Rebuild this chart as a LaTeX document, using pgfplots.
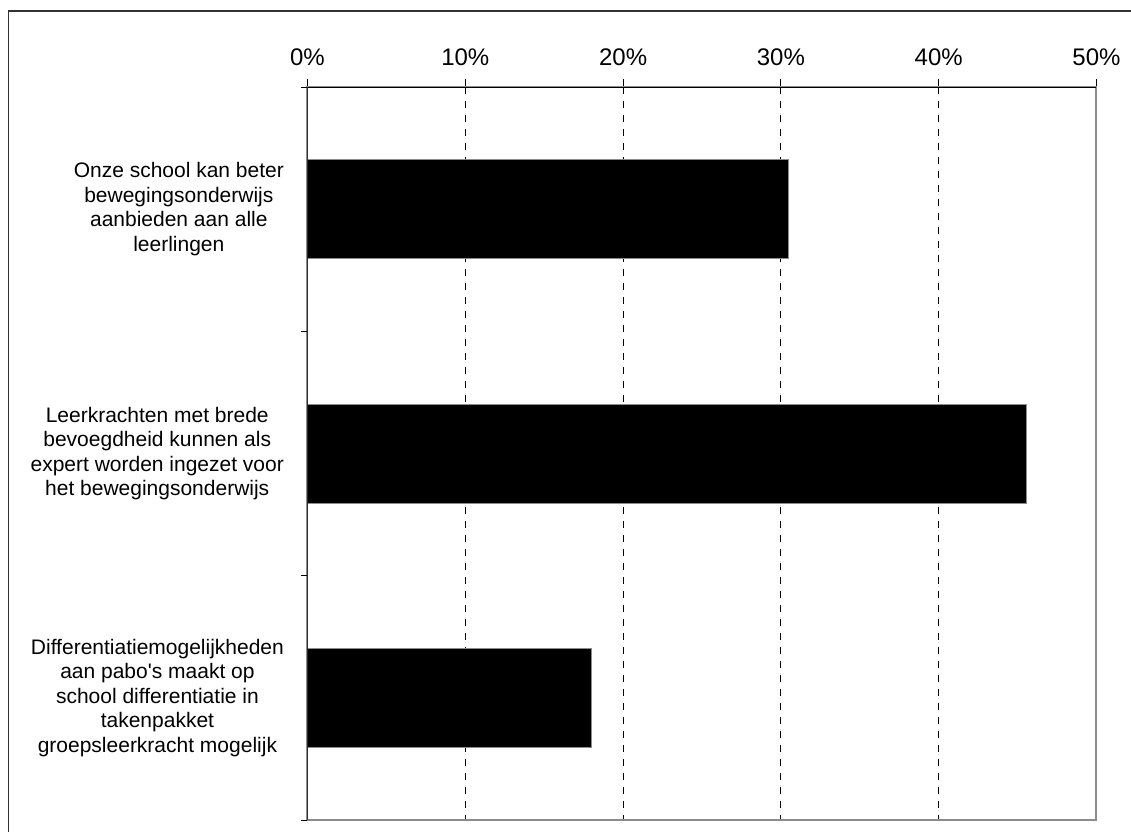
\documentclass[border=0pt]{standalone}
\usepackage{fontspec}
\setmainfont{Liberation Sans}
\usepackage{pgfplots}
\pgfplotsset{compat=1.18}
\definecolor{axgray}{HTML}{8C8C8C}
\definecolor{framegray}{HTML}{333333}

\begin{document}
\begin{tikzpicture}
\path[use as bounding box] (0,0) rectangle (565.5pt,415.5pt);
% outer frame (only left and top visible)
\draw[framegray, line width=0.8pt] (4.25pt,-1pt) -- (4.25pt,410pt) -- (567pt,410pt);

\begin{axis}[
  at={(153.75pt,5.5pt)}, anchor=south west,
  scale only axis, width=394.5pt, height=366.5pt,
  xmin=0, xmax=50, ymin=-0.5, ymax=2.5,
  y dir=reverse,
  axis line style={axgray, line width=1pt},
  xtick={0,10,20,30,40,50},
  xticklabels={0\%,10\%,20\%,30\%,40\%,50\%},
  xtick pos=upper, xticklabel pos=upper,
  xticklabel style={font=\fontsize{12}{14}\selectfont, yshift=3pt},
  xtick style={black, line width=0.5pt, /pgfplots/major tick length=4pt},
  tick align=outside,
  xmajorgrids,
  grid style={black, line width=0.5pt, dash pattern=on 3.5pt off 3.5pt},
  ytick={0,1,2},
  yticklabels={
    {Onze school kan beter\\bewegingsonderwijs\\aanbieden aan alle\\leerlingen},
    {Leerkrachten met brede\\bevoegdheid kunnen als\\expert worden ingezet voor\\het bewegingsonderwijs},
    {Differentiatiemogelijkheden\\aan pabo\textquotesingle s maakt op\\school differentiatie in\\takenpakket\\groepsleerkracht mogelijk}},
  ytick pos=lower, yticklabel pos=lower,
  ytick style={/pgfplots/major tick length=0pt},
  yticklabel style={align=center, font=\fontsize{10.5}{12.25}\selectfont, xshift=-4pt},
  extra y ticks={-0.5,0.5,1.5,2.5},
  extra y tick labels={},
  extra y tick style={ytick style={black, line width=0.5pt, /pgfplots/major tick length=3pt}},
]
\addplot[xbar, fill=black, draw=axgray, line width=0.4pt, bar width=0.405]
  coordinates {(30.5,0) (45.55,1) (18.0,2)};
% axis edges: left and top dark, right grey over the grid line
\draw[axgray, line width=1pt] (rel axis cs:1,0) -- (rel axis cs:1,1);
\draw[black, line width=0.8pt] (rel axis cs:0,0) -- (rel axis cs:0,1) -- (rel axis cs:1,1);
\end{axis}
\end{tikzpicture}
\end{document}
